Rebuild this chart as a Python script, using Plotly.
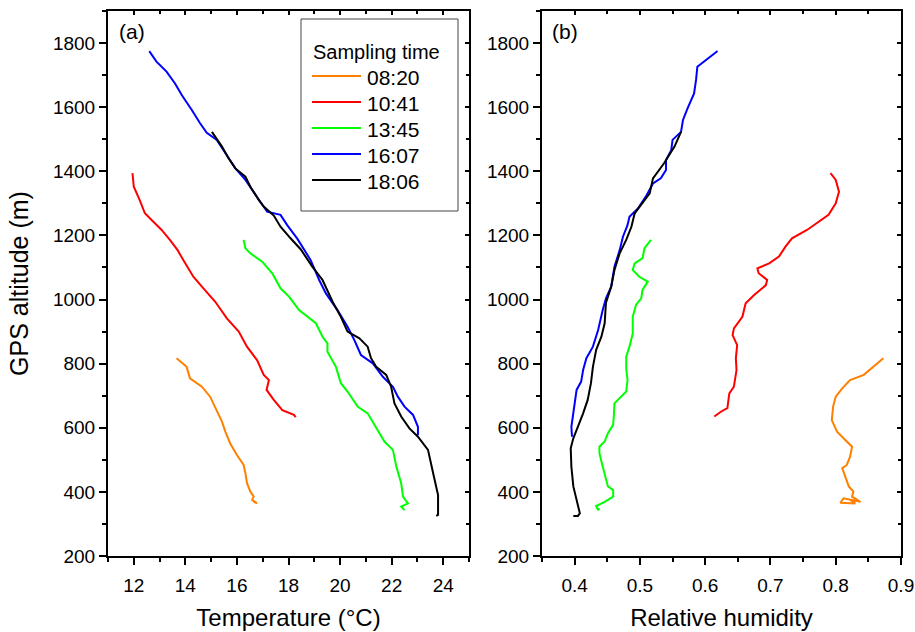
import plotly.graph_objects as go

# ---- data ----
TIMES = ['08:20', '10:41', '13:45', '16:07', '18:06']
COLORS = ['#FF8000', '#FF0000', '#00FF00', '#0000FF', '#000000']

# panel (a): temperature profiles
temp_0820 = [13.66, 14.05, 14.18, 14.64, 14.96, 15.16, 15.42, 15.55, 15.74, 16.00, 16.26, 16.33,
             16.39, 16.52, 16.65, 16.59, 16.78, 16.65]
talt_0820 = [817, 790, 754, 728, 697, 661, 619, 588, 551, 515, 484, 458, 427, 401, 385, 375, 364, 369]

temp_1041 = [11.95, 12.00, 12.23, 12.43, 12.69, 13.08, 13.40, 13.70, 13.92, 14.31, 14.70, 15.16,
             15.61, 16.07, 16.39, 16.78, 17.04, 17.24, 17.15, 17.43, 17.76, 18.21, 18.28]
talt_1041 = [1394, 1352, 1310, 1269, 1248, 1217, 1186, 1154, 1123, 1071, 1035, 993, 941, 900, 853,
             811, 765, 749, 718, 687, 655, 640, 633]

temp_1345 = [16.26, 16.33, 16.52, 16.98, 17.37, 17.69, 18.02, 18.41, 19.06, 19.32, 19.51, 19.51,
             19.84, 20.03, 20.29, 20.68, 21.07, 21.40, 21.72, 22.05, 22.18, 22.37, 22.44, 22.63,
             22.37, 22.50]
talt_1345 = [1186, 1160, 1144, 1118, 1082, 1035, 1009, 967, 926, 884, 863, 837, 790, 739, 713, 666,
             645, 598, 557, 531, 479, 427, 385, 364, 354, 343]

temp_1607 = [12.60, 12.88, 13.27, 13.60, 13.86, 14.05, 14.25, 14.57, 14.83, 15.22, 15.55, 15.94,
             16.33, 16.78, 17.17, 17.69, 17.95, 18.34, 18.86, 19.19, 19.45, 19.90, 20.29, 20.55,
             20.81, 21.27, 21.66, 22.05, 22.24, 22.50, 22.83, 23.02, 23.02]
talt_1607 = [1775, 1742, 1711, 1674, 1638, 1617, 1591, 1550, 1520, 1498, 1456, 1409, 1373, 1321,
             1274, 1264, 1232, 1190, 1123, 1061, 1019, 967, 915, 874, 827, 801, 759, 728, 697, 666,
             640, 603, 577]

temp_1806 = [15.03, 15.42, 15.68, 15.94, 16.33, 16.52, 16.85, 17.04, 17.43, 17.69, 18.08, 18.47,
             18.93, 19.32, 19.71, 20.03, 20.29, 20.75, 21.07, 21.20, 21.40, 21.79, 21.98, 22.11,
             22.37, 22.69, 23.02, 23.41, 23.61, 23.80, 23.80, 23.73]
talt_1806 = [1523, 1477, 1440, 1409, 1383, 1352, 1310, 1290, 1262, 1227, 1191, 1157, 1102, 1061,
             993, 946, 900, 879, 853, 817, 790, 765, 728, 676, 635, 598, 572, 531, 458, 390, 328, 325]

# panel (b): relative humidity profiles
rh_0820 = [0.873, 0.858, 0.843, 0.822, 0.810, 0.800, 0.796, 0.794, 0.802, 0.817, 0.825, 0.822,
           0.817, 0.810, 0.815, 0.820, 0.827, 0.825, 0.838, 0.812, 0.807, 0.830, 0.822]
halt_0820 = [817, 790, 765, 749, 723, 697, 666, 624, 588, 557, 541, 510, 484, 474, 448, 417, 401,
             385, 369, 380, 366, 364, 375]

rh_1041 = [0.792, 0.800, 0.805, 0.800, 0.789, 0.774, 0.756, 0.733, 0.723, 0.713, 0.698, 0.680,
           0.682, 0.695, 0.693, 0.675, 0.662, 0.657, 0.644, 0.642, 0.649, 0.647, 0.648, 0.644,
           0.637, 0.634, 0.624, 0.614]
halt_1041 = [1394, 1373, 1336, 1300, 1264, 1243, 1217, 1191, 1165, 1134, 1113, 1097, 1082, 1061,
             1045, 1014, 988, 946, 910, 889, 858, 817, 780, 728, 707, 661, 650, 635]

rh_1345 = [0.517, 0.507, 0.504, 0.492, 0.489, 0.499, 0.512, 0.504, 0.502, 0.494, 0.489, 0.489,
           0.484, 0.479, 0.479, 0.481, 0.479, 0.466, 0.461, 0.460, 0.459, 0.451, 0.446, 0.438,
           0.438, 0.443, 0.448, 0.451, 0.459, 0.459, 0.446, 0.433, 0.436, 0.438]
halt_1345 = [1186, 1160, 1129, 1113, 1092, 1071, 1056, 1030, 1004, 983, 946, 894, 853, 822, 785,
             749, 713, 687, 676, 635, 609, 583, 557, 541, 520, 479, 437, 417, 406, 385, 369, 356,
             343, 349]

rh_1607 = [0.619, 0.604, 0.588, 0.586, 0.583, 0.573, 0.566, 0.563, 0.550, 0.548, 0.540, 0.540,
           0.532, 0.520, 0.509, 0.497, 0.484, 0.481, 0.474, 0.469, 0.461, 0.456, 0.448, 0.443,
           0.436, 0.428, 0.418, 0.413, 0.410, 0.403, 0.400, 0.398, 0.395, 0.396]
halt_1607 = [1775, 1752, 1726, 1685, 1643, 1596, 1560, 1523, 1498, 1466, 1435, 1404, 1378, 1362,
             1321, 1284, 1258, 1232, 1196, 1154, 1102, 1040, 1004, 967, 905, 853, 817, 780, 744,
             718, 676, 635, 603, 572]

rh_1806 = [0.563, 0.553, 0.537, 0.527, 0.520, 0.515, 0.502, 0.492, 0.487, 0.479, 0.469, 0.461,
           0.456, 0.448, 0.446, 0.441, 0.433, 0.428, 0.425, 0.420, 0.413, 0.405, 0.398, 0.394,
           0.395, 0.398, 0.403, 0.408, 0.405, 0.398]
halt_1806 = [1523, 1477, 1425, 1399, 1378, 1331, 1295, 1269, 1227, 1186, 1144, 1092, 1040, 990,
             926, 884, 843, 790, 739, 687, 645, 603, 567, 536, 479, 417, 375, 333, 325, 325]

TEMPS = [temp_0820, temp_1041, temp_1345, temp_1607, temp_1806]
TALTS = [talt_0820, talt_1041, talt_1345, talt_1607, talt_1806]
RHS = [rh_0820, rh_1041, rh_1345, rh_1607, rh_1806]
HALTS = [halt_0820, halt_1041, halt_1345, halt_1607, halt_1806]

FONT = 'Arial, Liberation Sans, sans-serif'
W, H = 915, 632
ML, MR, MT, MB = 108, 14, 11, 76


def px_x(px):
    # page pixel -> paper x
    return (px - ML) / (W - ML - MR)


def px_y(py):
    # page pixel -> paper y
    return (H - MB - py) / (H - MT - MB)


fig = go.Figure()

for name, col, t, a in zip(TIMES, COLORS, TEMPS, TALTS):
    fig.add_trace(go.Scatter(x=t, y=a, mode='lines', name=name, showlegend=False,
                             line=dict(color=col, width=2), xaxis='x', yaxis='y'))

for name, col, h, a in zip(TIMES, COLORS, RHS, HALTS):
    fig.add_trace(go.Scatter(x=h, y=a, mode='lines', name=name, showlegend=False,
                             line=dict(color=col, width=2), xaxis='x2', yaxis='y2'))

# empty traces so the overlay axes (inner frame ticks) get drawn
for xa, ya in [('x3', 'y3'), ('x4', 'y4')]:
    fig.add_trace(go.Scatter(x=[None], y=[None], mode='lines', showlegend=False,
                             hoverinfo='skip', xaxis=xa, yaxis=ya))

tickfont = dict(family=FONT, size=19, color='black')
common = dict(showline=True, linewidth=2, linecolor='black', mirror=True, showgrid=False,
              zeroline=False, ticks='outside', ticklen=7, tickwidth=1.5, tickcolor='black',
              tickfont=tickfont)
inner = dict(showline=False, showgrid=False, zeroline=False, ticks='inside', ticklen=4,
             tickwidth=1.5, tickcolor='black', showticklabels=False)


def minor(step, where='outside', ln=4):
    return dict(dtick=step, ticks=where, ticklen=ln, tickwidth=1.5, tickcolor='black')


xa_dom = [0, px_x(469)]
xb_dom = [px_x(542), 1]
yr = [200, 1900]
title_font = dict(family=FONT, size=24, color='black')

# hand-drawn legend box, as in the original figure
shapes = [dict(type='rect', xref='paper', yref='paper', x0=px_x(301), x1=px_x(458),
               y0=px_y(211), y1=px_y(19), line=dict(color='#444444', width=1),
               fillcolor='white', layer='above')]
annotations = [
    dict(text='(a)', x=px_x(117), y=px_y(18), xref='paper', yref='paper', xanchor='left',
         yanchor='top', showarrow=False, font=dict(family=FONT, size=21, color='black')),
    dict(text='(b)', x=px_x(550), y=px_y(18), xref='paper', yref='paper', xanchor='left',
         yanchor='top', showarrow=False, font=dict(family=FONT, size=21, color='black')),
    dict(text='Sampling time', x=px_x(311), y=px_y(52), xref='paper', yref='paper',
         xanchor='left', yanchor='middle', showarrow=False,
         font=dict(family=FONT, size=20, color='black')),
]
for i, (name, col) in enumerate(zip(TIMES, COLORS)):
    yy = 76 + 26 * i
    shapes.append(dict(type='line', xref='paper', yref='paper', x0=px_x(312), x1=px_x(361),
                       y0=px_y(yy), y1=px_y(yy), line=dict(color=col, width=2), layer='above'))
    annotations.append(dict(text=name, x=px_x(365), y=px_y(yy + 1), xref='paper', yref='paper',
                            xanchor='left', yanchor='middle', showarrow=False,
                            font=dict(family=FONT, size=21, color='black')))

fig.update_layout(
    xaxis=dict(domain=xa_dom, range=[11, 25], anchor='y', dtick=2, tick0=0, minor=minor(1),
               ticklabelstandoff=4,
               title=dict(text='Temperature (°C)', font=title_font, standoff=14), **common),
    yaxis=dict(domain=[0, 1], range=yr, anchor='x', dtick=200, tick0=0, minor=minor(100),
               title=dict(text='GPS altitude (m)', font=dict(family=FONT, size=25, color='black'),
                          standoff=17), **common),
    xaxis2=dict(domain=xb_dom, range=[0.35, 0.9], anchor='y2', dtick=0.1, tick0=0,
                minor=minor(0.05), ticklabelstandoff=4,
                title=dict(text='Relative humidity', font=title_font, standoff=14), **common),
    yaxis2=dict(domain=[0, 1], range=yr, anchor='x2', dtick=200, tick0=0, minor=minor(100),
                **common),
    # mirrored tick marks pointing inwards on the top and right frames
    xaxis3=dict(domain=xa_dom, overlaying='x', side='top', anchor='y', range=[11, 25],
                dtick=2, tick0=0, minor=minor(1, 'inside', 3), **inner),
    yaxis3=dict(domain=[0, 1], overlaying='y', side='right', anchor='x', range=yr,
                dtick=200, tick0=0, minor=minor(100, 'inside', 3), **inner),
    xaxis4=dict(domain=xb_dom, overlaying='x2', side='top', anchor='y2', range=[0.35, 0.9],
                dtick=0.1, tick0=0, minor=minor(0.05, 'inside', 3), **inner),
    yaxis4=dict(domain=[0, 1], overlaying='y2', side='right', anchor='x2', range=yr,
                dtick=200, tick0=0, minor=minor(100, 'inside', 3), **inner),
    shapes=shapes,
    annotations=annotations,
    showlegend=False,
    font=dict(family=FONT, color='black'),
    paper_bgcolor='white',
    plot_bgcolor='white',
    width=W,
    height=H,
    margin=dict(l=ML, r=MR, t=MT, b=MB, autoexpand=False),
)

# drop the default page margin so the figure sits at the window's top-left corner
fig.write_html('out.html', config={'displayModeBar': False},
               post_script="document.body.style.margin='0';")
